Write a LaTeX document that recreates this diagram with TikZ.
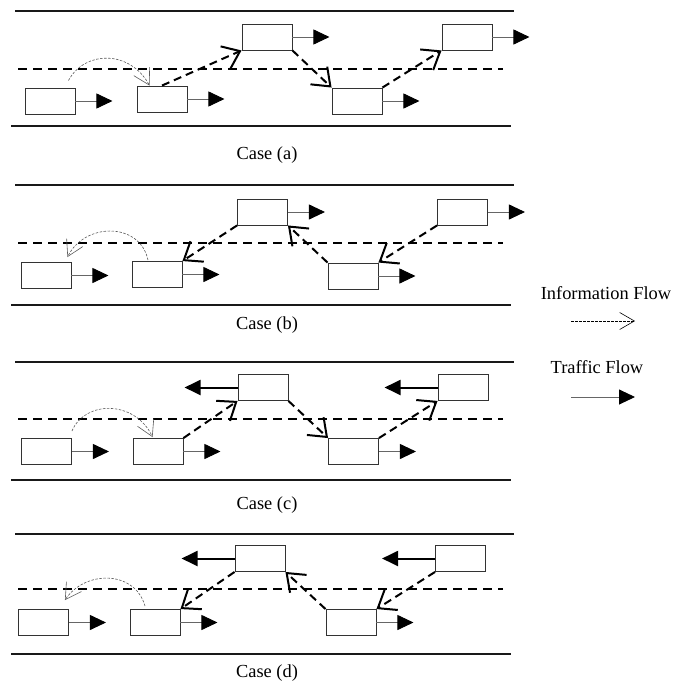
\documentclass[tikz,border=0pt]{standalone}
\usepackage{fontspec}
\setmainfont{Liberation Serif}
\usetikzlibrary{arrows.meta}

\begin{document}
\begin{tikzpicture}[
    x = 1pt, y = -1pt,
    font = \fontsize{18.4}{21}\selectfont,
   car/.style = {draw=black!80, line width=0.9pt, minimum width=50pt,
                 minimum height=26pt, inner sep=0pt},
  road/.style = {line width=2pt, black!90},
  lane/.style = {line width=2pt, dash pattern=on 9pt off 6pt},
   fwd/.style = {draw=black!60, line width=0.9pt,
                 -{Triangle[length=16pt,width=15pt,color=black]}},
  back/.style = {line width=2pt, -{Triangle[length=16pt,width=15pt]}},
  info/.style = {line width=2pt, dash pattern=on 8pt off 5pt,
                 -{Straight Barb[angle=75:20pt]}},
   hop/.style = {black!65, line width=0.6pt, dash pattern=on 2.5pt off 1.5pt,
                 -{Straight Barb[angle=60:18pt]}}
                    ]
\useasboundingbox (0,0) rectangle (689,683);
% roads
\foreach \t/\c/\b in {11/69/126, 185/243/305, 362/419/480, 534/589/654}
  {
\draw[road] (15,\t) -- (514,\t);
\draw[lane] (18,\c) -- (503,\c);
\draw[road] (11,\b) -- (511,\b);
  }
% case (a)
\node (a1) [car] at (50,101) {};
\node (a2) [car] at (162,99) {};
\node (a3) [car] at (267,37) {};
\node (a4) [car] at (357,101) {};
\node (a5) [car] at (467,37) {};
% case (b)
\node (b1) [car] at (46,275.5) {};
\node (b2) [car] at (157,274.5) {};
\node (b3) [car] at (262.5,212) {};
\node (b4) [car] at (353,276) {};
\node (b5) [car] at (462.5,212) {};
% case (c)
\node (c1) [car] at (46.5,451.5) {};
\node (c2) [car] at (158,451.5) {};
\node (c3) [car] at (263,387.5) {};
\node (c4) [car] at (353.5,451.5) {};
\node (c5) [car] at (463,387.5) {};
% case (d)
\node (d1) [car] at (43.5,622.5) {};
\node (d2) [car] at (155,622.5) {};
\node (d3) [car] at (260,558.5) {};
\node (d4) [car] at (351,622.5) {};
\node (d5) [car] at (460.5,558.5) {};

\foreach \n in {a1,a2,a3,a4,a5,b1,b2,b3,b4,b5,c1,c2,c4,d1,d2,d4}
  \draw[fwd] (\n.east) -- ++(37,0);
\foreach \n in {c3,c5,d3,d5}
  \draw[back] (\n.west) -- ++(-53,0);

\draw[info] (a2.north) -- (a3.south west);
\draw[info] (a3.south east) -- (a4.north west);
\draw[info] (a4.north east) -- (a5.south west);
\draw[info] (b3.south west) -- (b2.north east);
\draw[info] (b4.north west) -- (b3.south east);
\draw[info] (b5.south west) -- (b4.north east);
\draw[info] (c2.north east) -- (c3.south west);
\draw[info] (c3.south east) -- (c4.north west);
\draw[info] (c4.north east) -- (c5.south west);
\draw[info] (d3.south west) -- (d2.north east);
\draw[info] (d4.north west) -- (d3.south east);
\draw[info] (d5.south west) -- (d4.north east);

\draw[hop] ([xshift=-7pt,yshift=7pt]a1.north east)
  .. controls (85,50) and (130,50) .. ([xshift=13pt]a2.north west);
\draw[hop] ([xshift=-9pt,yshift=1pt]b2.north)
  .. controls (140,222) and (85,222) .. ([xshift=-4pt,yshift=5pt]b1.north east);
\draw[hop] ([yshift=7pt]c1.north east)
  .. controls (85,400) and (135,400) .. ([xshift=20pt,yshift=1pt]c2.north west);
\draw[hop] ([xshift=-10pt,yshift=3pt]d2.north)
  .. controls (135,570) and (85,570) .. ([xshift=-4pt,yshift=9pt]d1.north east);

\node (capa) at (267,155) {Case (a)};
\node (capb) at (267,325) {Case (b)};
\node (capc) at (267,505) {Case (c)};
\node (capd) at (267,673) {Case (d)};

% legend
\node (infolbl) at (606,293) {Information Flow};
\node (trafflbl) at (597,367) {Traffic Flow};
\coordinate (info-s) at (571,321);
\coordinate (info-e) at (635,321);
\coordinate (traf-s) at (571,397);
\coordinate (traf-e) at (635,397);
\draw[line width=0.6pt, dash pattern=on 2.5pt off 1.5pt,
      -{Straight Barb[angle=60:17pt]}] (info-s) -- (info-e);
\draw[fwd] (traf-s) -- (traf-e);
\end{tikzpicture}
\end{document}
